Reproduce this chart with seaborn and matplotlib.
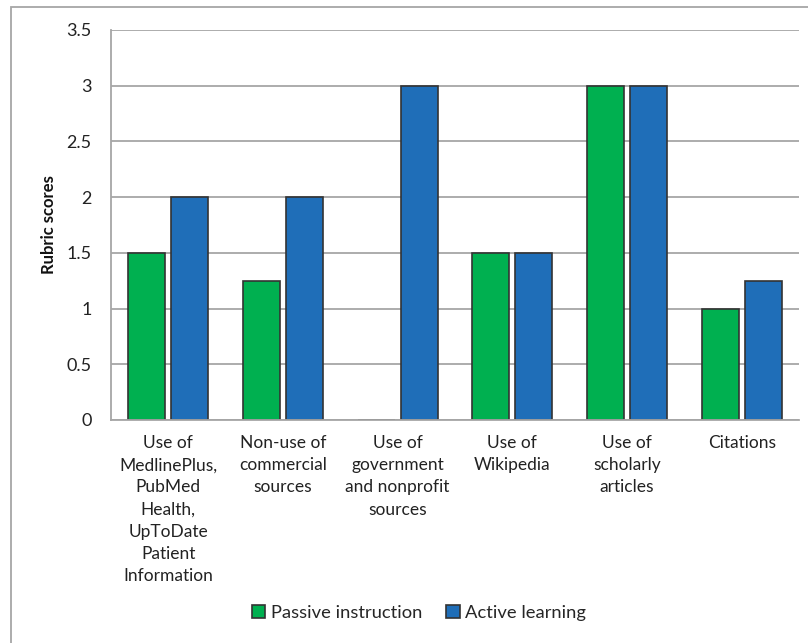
import matplotlib.pyplot as plt
import seaborn as sns
import pandas as pd
from matplotlib.patches import Rectangle

categories = ["Use of\nMedlinePlus,\nPubMed\nHealth,\nUpToDate\nPatient\nInformation",
              "Non-use of\ncommercial\nsources",
              "Use of\ngovernment\nand nonprofit\nsources",
              "Use of\nWikipedia",
              "Use of\nscholarly\narticles",
              "Citations"]
passive = [1.5, 1.25, 0, 1.5, 3, 1]
active = [2, 2, 3, 1.5, 3, 1.25]
series = ["Passive instruction", "Active learning"]
colors = ["#00B050", "#1F6EB8"]

df = pd.DataFrame({
    "category": categories * 2,
    "score": passive + active,
    "group": [series[0]] * len(categories) + [series[1]] * len(categories),
})

sns.set_style("white")
plt.rcParams['font.family'] = ['Lato', 'DejaVu Sans']

fig = plt.figure(figsize=(8.08, 6.43), dpi=100)
ax = fig.add_axes([111 / 808, 1 - 420 / 643, 688 / 808, 390 / 643])

sns.barplot(data=df, x="category", y="score", hue="group", palette=colors, saturation=1,
            width=0.75, gap=0.14, edgecolor="#333333", linewidth=1.2, ax=ax)

ax.set_ylim(0, 3.5)
ax.set_yticks([0, 0.5, 1, 1.5, 2, 2.5, 3, 3.5])
ax.set_yticklabels(["0", "0.5", "1", "1.5", "2", "2.5", "3", "3.5"], fontsize=13, color="#222222")
ax.yaxis.grid(True, color="#A6A6A6", linewidth=1.3)
ax.set_axisbelow(True)
ax.tick_params(axis="y", length=0, pad=14)
ax.tick_params(axis="x", length=0, pad=11)
for lbl in ax.get_xticklabels():
    lbl.set_fontsize(12.5)
    lbl.set_color("#222222")
    lbl.set_linespacing(1.47)
ax.set_xlabel("")
ax.set_ylabel("Rubric scores", fontsize=12, fontweight="bold", color="#111111", labelpad=7)
for side in ["top", "right"]:
    ax.spines[side].set_visible(False)
for side in ["left", "bottom"]:
    ax.spines[side].set_color("#A6A6A6")
    ax.spines[side].set_linewidth(1.3)

ax.legend_.remove()
handles = [Rectangle((0, 0), 1, 1, facecolor=c, edgecolor="#333333", linewidth=1.2) for c in colors]
fig.legend(handles, series, loc="center", bbox_to_anchor=(419 / 808, 1 - 613 / 643),
           ncol=2, frameon=False, fontsize=13.2, handlelength=0.75, handleheight=0.75,
           handletextpad=0.3, columnspacing=1.3)

# outer chart frame
fig.patches.append(Rectangle((11 / 808, -0.01), 1.0, 1 - 7 / 643 + 0.01, transform=fig.transFigure,
                             fill=False, edgecolor="#A6A6A6", linewidth=1.3))

fig.savefig("out.png", dpi=100)
